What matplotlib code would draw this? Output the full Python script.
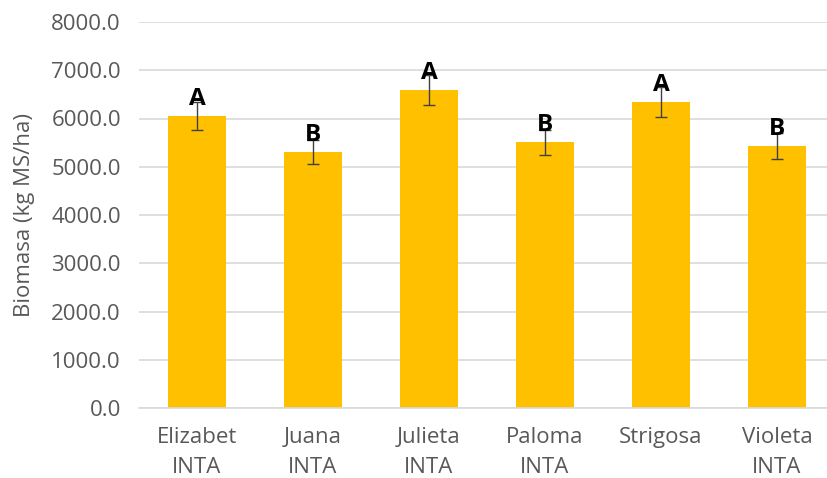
import matplotlib
matplotlib.use("Agg")
import matplotlib.pyplot as plt
import numpy as np

categories = ["Elizabet\nINTA", "Juana\nINTA", "Julieta\nINTA", "Paloma\nINTA", "Strigosa", "Violeta\nINTA"]
biomasa = [6054, 5298, 6586, 5505, 6344, 5428]
errors = [296, 250, 310, 263, 310, 262]
letters = ["A", "B", "A", "B", "A", "B"]
yticks = [0, 1000, 2000, 3000, 4000, 5000, 6000, 7000, 8000]

plt.rcParams['font.family'] = ['Open Sans', 'DejaVu Sans']
txt = '#595959'

fig = plt.figure(figsize=(8.27, 4.78), dpi=100)
ax = fig.add_axes([139/827, 70/478, 696/827, 386/478])
x = np.arange(len(categories))
ax.bar(x, biomasa, width=0.5, color='#FFC000', zorder=2)
ax.errorbar(x, biomasa, yerr=errors, fmt='none', ecolor='#404040', elinewidth=1.0,
            capsize=4.5, capthick=1.0, zorder=3)
for xi, v, l in zip(x, biomasa, letters):
    ax.text(xi, v + 110, l, ha='center', va='bottom', fontsize=17.5, fontweight='bold',
            color='black', zorder=4)

ax.set_xlim(-0.5, len(categories) - 0.5)
ax.set_ylim(0, 8000)
ax.set_yticks(yticks)
ax.set_yticklabels([f"{t:.1f}" for t in yticks])
ax.set_xticks(x)
ax.set_xticklabels(categories, linespacing=1.55)
ax.tick_params(axis='both', length=0, labelsize=16, labelcolor=txt)
ax.tick_params(axis='y', pad=13)
ax.tick_params(axis='x', pad=14)
ax.yaxis.grid(True, color='#D9D9D9', linewidth=1.2, zorder=0)
ax.set_axisbelow(True)
for s in ['top', 'right', 'left']:
    ax.spines[s].set_visible(False)
ax.spines['bottom'].set_color('#D9D9D9')
ax.spines['bottom'].set_linewidth(1.2)
ax.set_ylabel("Biomasa (kg MS/ha)", fontsize=16, color=txt, labelpad=12)

fig.savefig("out.png", dpi=100)
